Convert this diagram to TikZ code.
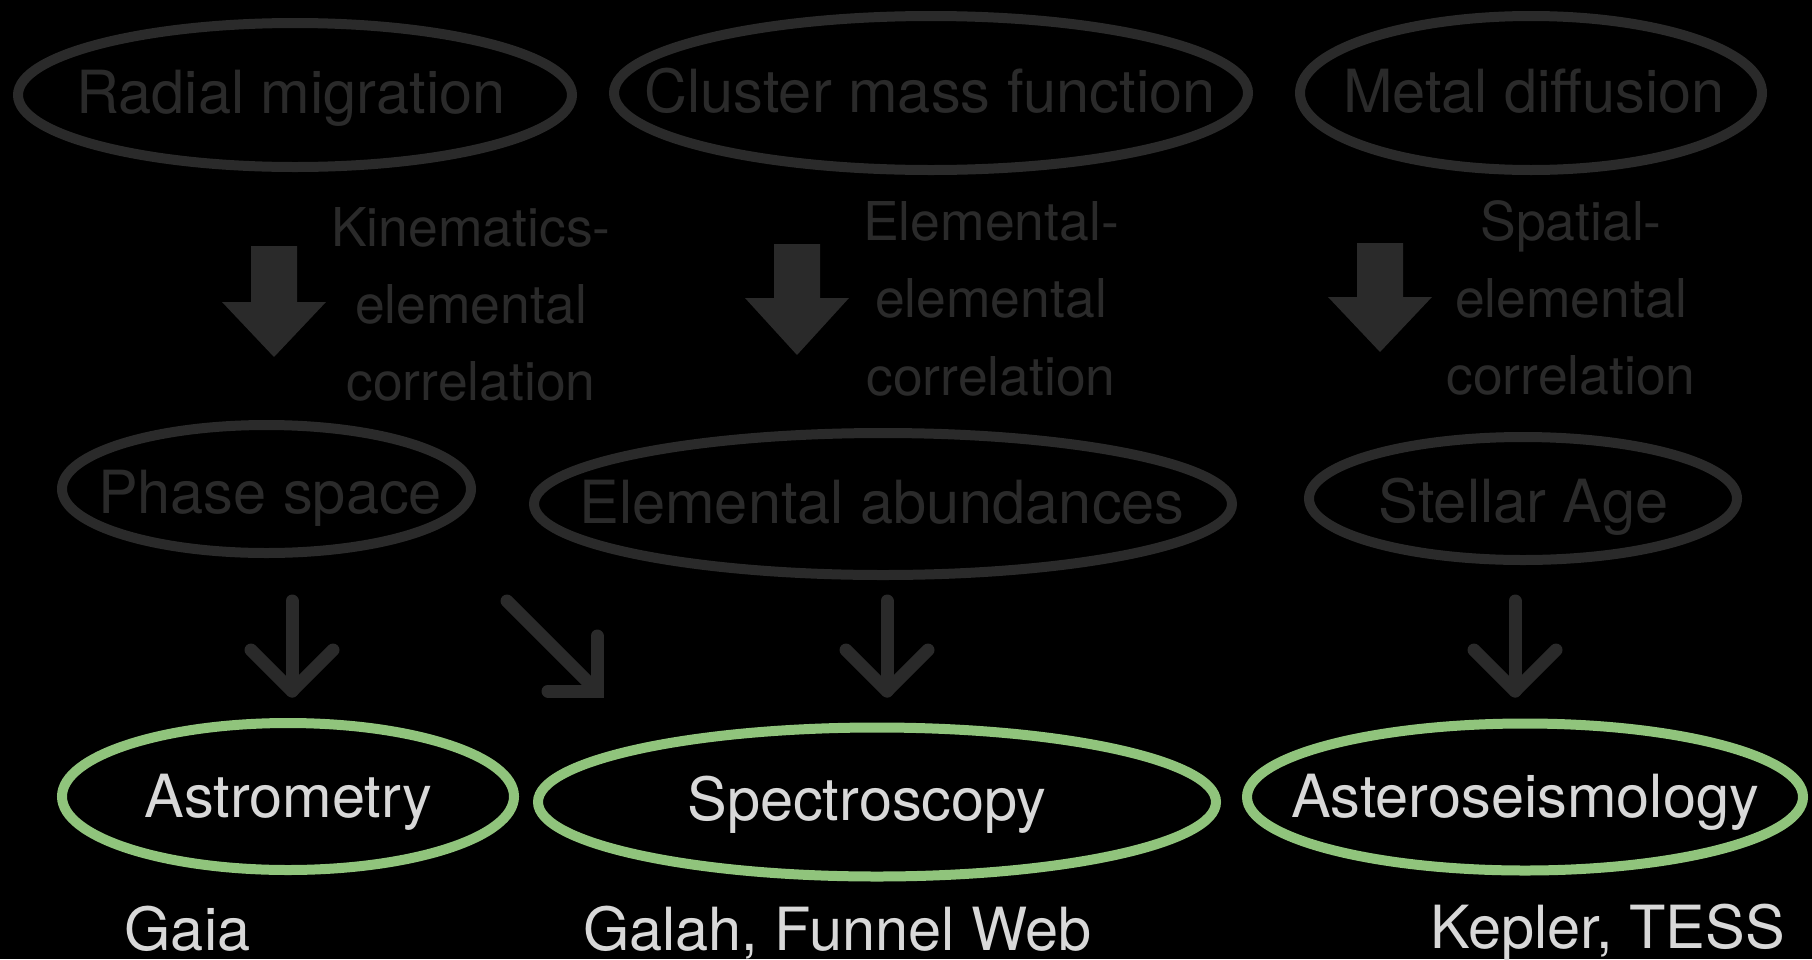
\documentclass[tikz,border=0pt]{standalone}
\usepackage{fontspec}
\setmainfont{TeX Gyre Heros}
\usetikzlibrary{shapes.geometric}
\definecolor{dimgrey}{RGB}{42,42,42}
\definecolor{leafgreen}{RGB}{144,196,124}
\definecolor{lighttext}{RGB}{216,216,216}
\tikzset{
  oval/.style={ellipse, draw=dimgrey, line width=10pt, inner sep=0pt},
  goval/.style={ellipse, draw=leafgreen, line width=10pt, inner sep=0pt},
  bigtxt/.style={anchor=base, inner sep=0pt, font=\fontsize{59.5}{70}\selectfont},
  dimtxt/.style={bigtxt, text=dimgrey},
  brighttxt/.style={bigtxt, text=lighttext},
  corrtxt/.style={anchor=base, inner sep=0pt, text=dimgrey, font=\fontsize{53.5}{77}\selectfont},
  blockarrow/.style={fill=dimgrey, draw=none},
  linearrow/.style={draw=dimgrey, line width=13pt, line cap=round, line join=round},
  cornerarrow/.style={draw=dimgrey, line width=13pt, line cap=round, line join=miter}
}
\begin{document}
\begin{tikzpicture}[x=1pt,y=-1pt]
\useasboundingbox (0,0) rectangle (1812,959);
\fill[black] (0,0) rectangle (1812,959);

% top row
\node[oval, minimum width=554pt, minimum height=144pt] (radial) at (295,95) {};
\node[dimtxt] (radialt) at (291,113) {Radial migration};
\node[oval, minimum width=634pt, minimum height=154pt] (cluster) at (931,93) {};
\node[dimtxt] (clustert) at (930,112) {Cluster mass function};
\node[oval, minimum width=462pt, minimum height=154pt] (metal) at (1531,93) {};
\node[dimtxt] (metalt) at (1534,112) {Metal diffusion};

% block arrows
\foreach \cx/\top/\hy/\tip [count=\i] in {274/246/302/357, 797/244/298/355, 1380/243/297/352}{
  \fill[blockarrow] (\cx-23,\top) -- (\cx+23,\top) -- (\cx+23,\hy) -- (\cx+52,\hy)
     -- (\cx,\tip) -- (\cx-52,\hy) -- (\cx-23,\hy) -- cycle;
}

% correlation labels
\node[corrtxt] (corr1a) at (471,246) {Kinematics-};
\node[corrtxt] (corr1b) at (471,323) {elemental};
\node[corrtxt] (corr1c) at (471,400) {correlation};
\node[corrtxt] (corr2a) at (991,240) {Elemental-};
\node[corrtxt] (corr2b) at (991,317) {elemental};
\node[corrtxt] (corr2c) at (991,395) {correlation};
\node[corrtxt] (corr3a) at (1571,240) {Spatial-};
\node[corrtxt] (corr3b) at (1571,317) {elemental};
\node[corrtxt] (corr3c) at (1571,394) {correlation};

% middle row
\node[oval, minimum width=409pt, minimum height=128pt] (phase) at (266.5,489) {};
\node[dimtxt] (phaset) at (270,513) {Phase space};
\node[oval, minimum width=698pt, minimum height=142pt] (abund) at (883,504) {};
\node[dimtxt] (abundt) at (882,523) {Elemental abundances};
\node[oval, minimum width=428pt, minimum height=123pt] (age) at (1523,498.5) {};
\node[dimtxt] (aget) at (1523.5,522) {Stellar Age};

% line arrows
\foreach \x/\n in {292/a, 887/b, 1515/c}{
  \coordinate (s\n) at (\x,601);
  \coordinate (t\n) at (\x,691);
  \draw[linearrow] (s\n) -- (t\n);
  \draw[linearrow] (\x-41,650) -- (t\n) -- (\x+41,650);
}
\coordinate (ds) at (507,601);
\coordinate (dt) at (597,691);
\draw[draw=dimgrey, line width=13pt, line cap=round] (ds) -- (dt);
\draw[cornerarrow] (597,636) -- (dt) -- (548,691);

% bottom row
\node[goval, minimum width=452pt, minimum height=147pt] (astro) at (288,796.5) {};
\node[brighttxt] (astrot) at (288.5,817) {Astrometry};
\node[goval, minimum width=678pt, minimum height=149pt] (spec) at (877,802) {};
\node[brighttxt] (spect) at (867,820) {Spectroscopy};
\node[goval, minimum width=556pt, minimum height=147pt] (seis) at (1525,797) {};
\node[brighttxt] (seist) at (1525,817) {Asteroseismology};

% survey labels
\node[brighttxt] (gaia) at (187.5,950) {Gaia};
\node[brighttxt] (galah) at (837.5,950) {Galah, Funnel Web};
\node[brighttxt] (kepler) at (1607.5,948) {Kepler, TESS};
\end{tikzpicture}
\end{document}
